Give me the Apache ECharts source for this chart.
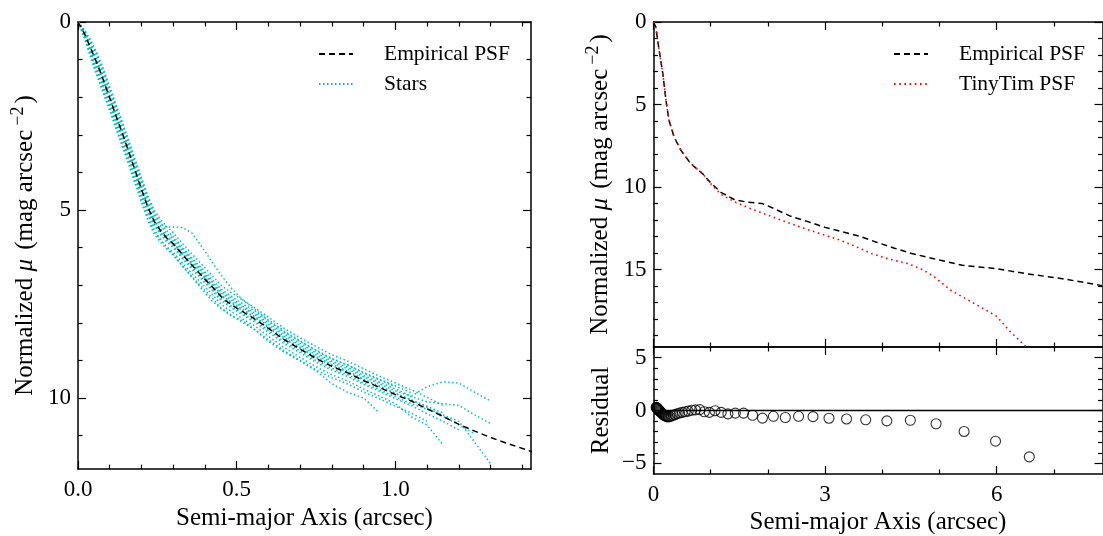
<!DOCTYPE html>
<html><head><meta charset="utf-8">
<script src="https://cdn.jsdelivr.net/npm/echarts@6.0.0/dist/echarts.min.js"></script>
<style>html,body{margin:0;padding:0;background:#fff}#c{width:1103px;height:536px}</style>
</head><body><div id="c"></div>
<script>
const FONT = '"Liberation Serif", "Times New Roman", "DejaVu Serif", serif';

// ---------- Left panel: empirical PSF and individual stars ----------
const psfX = [0, 0.02, 0.04, 0.06, 0.08, 0.10, 0.12, 0.14, 0.16, 0.18, 0.20, 0.22, 0.24, 0.26, 0.28, 0.30, 0.34, 0.38, 0.42, 0.46, 0.50, 0.55, 0.60, 0.65, 0.70, 0.75, 0.80, 0.85, 0.90, 0.95, 1.00, 1.05, 1.10, 1.15, 1.20, 1.25, 1.30, 1.35, 1.40, 1.43];
const psfY = [0, 0.30, 0.70, 1.10, 1.55, 2.02, 2.50, 2.97, 3.45, 3.95, 4.45, 4.92, 5.30, 5.55, 5.75, 5.90, 6.29, 6.66, 7.02, 7.38, 7.61, 7.86, 8.15, 8.45, 8.70, 8.95, 9.16, 9.33, 9.54, 9.72, 9.91, 10.08, 10.29, 10.49, 10.70, 10.88, 11.05, 11.20, 11.34, 11.43];

const starX = [0, 0.02, 0.04, 0.06, 0.08, 0.10, 0.12, 0.14, 0.16, 0.18, 0.20, 0.22, 0.24, 0.26, 0.28, 0.30, 0.33, 0.36, 0.39, 0.42, 0.45, 0.48, 0.52, 0.56, 0.60, 0.65, 0.70, 0.75, 0.80, 0.85, 0.90, 0.95, 1.00, 1.05, 1.10, 1.15, 1.20, 1.25, 1.30];
const star1  = [0, 0.20, 0.48, 0.82, 1.25, 1.72, 2.20, 2.67, 3.15, 3.65, 4.14, 4.62, 5.00, 5.25, 5.45, 5.60, 5.90, 6.18, 6.45, 6.72, 7.00, 7.18, 7.40, 7.62, 7.85, 8.15, 8.40, 8.63, 8.85, 9.02, 9.22, 9.42, 9.60, 9.78, 9.98, 10.20, null, null, null];
const star2  = [0, 0.24, 0.56, 0.92, 1.36, 1.82, 2.30, 2.78, 3.25, 3.75, 4.25, 4.72, 5.12, 5.38, 5.45, 5.45, 5.47, 5.62, 5.98, 6.35, 6.72, 7.05, 7.40, 7.66, 7.92, 8.22, 8.48, 8.72, 8.95, 9.12, 9.32, 9.50, 9.68, 9.86, null, null, null, null, null];
const star3  = [0, 0.27, 0.63, 1.01, 1.45, 1.92, 2.40, 2.87, 3.35, 3.85, 4.35, 4.82, 5.20, 5.42, 5.62, 5.76, 6.05, 6.33, 6.60, 6.88, 7.15, 7.33, 7.56, 7.76, 8.00, 8.30, 8.55, 8.80, 9.02, 9.18, 9.40, 9.58, 9.76, 9.95, 9.70, 9.57, 9.60, 9.85, 10.08];
const star4  = [0, 0.32, 0.74, 1.15, 1.60, 2.07, 2.55, 3.02, 3.50, 4.00, 4.50, 4.97, 5.36, 5.60, 5.80, 5.95, 6.25, 6.53, 6.80, 7.07, 7.35, 7.54, 7.76, 7.96, 8.20, 8.50, 8.75, 9.00, 9.21, 9.38, 9.60, 9.78, 9.97, 10.15, 10.30, 10.45, 10.62, 11.18, 11.75];
const star5  = [0, 0.30, 0.70, 1.10, 1.55, 2.02, 2.50, 2.97, 3.45, 3.95, 4.45, 4.92, 5.28, 5.50, 5.68, 5.82, 6.10, 6.38, 6.65, 6.92, 7.20, 7.38, 7.60, 7.80, 8.05, 8.35, 8.60, 8.85, 9.06, 9.23, 9.44, 9.62, 9.81, 9.96, 10.10, 10.15, 10.20, 10.45, 10.68];
const star6  = [0, 0.38, 0.85, 1.30, 1.76, 2.23, 2.70, 3.17, 3.65, 4.15, 4.65, 5.12, 5.52, 5.78, 6.00, 6.18, 6.50, 6.80, 7.10, 7.40, 7.62, 7.80, 7.95, 8.20, 8.50, 8.78, 9.02, 9.28, 9.62, 9.85, 10.00, 10.40, null, null, null, null, null, null, null];
const star7  = [0, 0.40, 0.90, 1.38, 1.85, 2.32, 2.80, 3.27, 3.75, 4.25, 4.75, 5.22, 5.58, 5.80, 5.98, 6.12, 6.42, 6.70, 6.96, 7.22, 7.50, 7.68, 7.90, 8.10, 8.36, 8.66, 8.92, 9.17, 9.38, 9.55, 9.76, 9.95, 10.15, 10.50, 10.72, 11.25, null, null, null];
const star8  = [0, 0.22, 0.52, 0.87, 1.30, 1.77, 2.25, 2.72, 3.20, 3.70, 4.20, 4.67, 5.06, 5.33, 5.55, 5.70, 6.00, 6.28, 6.55, 6.82, 7.10, 7.28, 7.50, 7.70, 7.95, 8.25, 8.50, 8.75, 8.96, 9.13, 9.34, 9.52, 9.70, null, null, null, null, null, null];
const star9  = [0, 0.34, 0.78, 1.20, 1.65, 2.12, 2.60, 3.07, 3.55, 4.05, 4.55, 5.02, 5.40, 5.65, 5.85, 6.00, 6.30, 6.58, 6.85, 7.12, 7.40, 7.58, 7.80, 8.00, 8.25, 8.55, 8.80, 9.05, 9.26, 9.43, 9.64, 9.82, 10.02, 10.20, 10.42, 10.62, 10.85, null, null];
const star10 = [0, 0.42, 0.95, 1.45, 1.90, 2.37, 2.85, 3.32, 3.80, 4.30, 4.80, 5.27, 5.64, 5.86, 6.05, 6.20, 6.50, 6.78, 7.05, 7.32, 7.60, 7.78, 8.00, 8.20, 8.45, 8.75, 9.00, 9.25, 9.46, 9.63, 9.84, 10.02, 10.22, 10.40, 10.62, null, null, null, null];
const star11 = [0, 0.28, 0.66, 1.05, 1.50, 1.97, 2.45, 2.92, 3.40, 3.90, 4.40, 4.87, 5.25, 5.52, 5.72, 5.88, 6.18, 6.46, 6.73, 7.00, 7.28, 7.46, 7.68, 7.88, 8.13, 8.43, 8.68, 8.93, 9.14, 9.31, 9.52, 9.70, 9.89, 10.05, 10.25, 10.48, 10.72, 10.95, null];
const star12 = [0, 0.36, 0.82, 1.26, 1.72, 2.18, 2.65, 3.12, 3.60, 4.10, 4.60, 5.06, 5.40, 5.60, 5.76, 5.88, 6.16, 6.43, 6.70, 6.97, 7.25, 7.43, 7.65, 7.85, 8.10, 8.40, 8.65, 8.90, 9.11, 9.28, 9.50, 9.68, 9.87, 10.05, 10.22, 10.40, null, null, null];
const starProfiles = [star1, star2, star3, star4, star5, star6, star7, star8, star9, star10, star11, star12];

// ---------- Right top panel: empirical vs TinyTim ----------
const empX = [0, 0.04, 0.10, 0.16, 0.22, 0.27, 0.36, 0.48, 0.65, 0.86, 1.00, 1.18, 1.41, 1.65, 1.90, 2.10, 2.40, 2.70, 3.00, 3.30, 3.60, 3.90, 4.20, 4.50, 4.90, 5.40, 6.00, 6.50, 7.15, 7.84];
const empY = [0, 0.30, 1.75, 3.05, 4.80, 5.95, 6.97, 7.78, 8.58, 9.20, 9.75, 10.33, 10.76, 10.93, 11.00, 11.30, 11.78, 12.10, 12.45, 12.72, 12.98, 13.35, 13.70, 14.02, 14.35, 14.75, 14.95, 15.25, 15.56, 15.98];
const tinyX = [0, 0.04, 0.10, 0.16, 0.22, 0.27, 0.36, 0.48, 0.65, 0.86, 1.00, 1.18, 1.41, 1.71, 2.01, 2.30, 2.61, 2.90, 3.22, 3.50, 3.82, 4.10, 4.43, 4.70, 4.91, 5.21, 5.64, 6.00, 6.24, 6.52];
const tinyY = [0, 0.30, 1.75, 3.05, 4.80, 5.95, 6.97, 7.78, 8.58, 9.20, 9.80, 10.45, 10.89, 11.33, 11.72, 12.10, 12.48, 12.82, 13.17, 13.55, 14.05, 14.35, 14.63, 15.00, 15.45, 16.29, 17.12, 17.84, 18.78, 19.70];

// ---------- Right bottom panel: residuals ----------
const resX = [0.046, 0.051, 0.056, 0.062, 0.068, 0.075, 0.082, 0.090, 0.099, 0.109, 0.120, 0.132, 0.145, 0.160, 0.176, 0.194, 0.213, 0.234, 0.258, 0.283, 0.312, 0.343, 0.377, 0.415, 0.456, 0.502, 0.552, 0.607, 0.668, 0.734, 0.808, 0.889, 0.977, 1.075, 1.183, 1.301, 1.431, 1.574, 1.732, 1.905, 2.096, 2.305, 2.536, 2.789, 3.068, 3.375, 3.71, 4.08, 4.49, 4.94, 5.43, 5.98, 6.57];
const resY = [0.30, 0.28, 0.25, 0.22, 0.18, 0.14, 0.10, 0.05, 0.0, -0.06, -0.12, -0.18, -0.25, -0.32, -0.40, -0.47, -0.53, -0.58, -0.60, -0.58, -0.52, -0.45, -0.38, -0.30, -0.24, -0.18, -0.12, -0.06, 0.02, 0.06, 0.08, -0.12, -0.18, -0.02, -0.18, -0.32, -0.25, -0.25, -0.45, -0.72, -0.55, -0.66, -0.55, -0.58, -0.73, -0.80, -0.88, -0.98, -0.92, -1.25, -1.98, -2.90, -4.38];

// ---------- Tick values ----------
const leftXMajor = [0, 0.5, 1.0];
const leftXMinor = [0.1, 0.2, 0.3, 0.4, 0.6, 0.7, 0.8, 0.9, 1.1, 1.2, 1.3, 1.4];
const leftYMajor = [0, 5, 10];
const leftYMinor = [1, 2, 3, 4, 6, 7, 8, 9, 11];
const rightXMajor = [0, 3, 6];
const rightXMinor = [1, 2, 4, 5, 7];
const rightYMajor = [0, 5, 10, 15];
const rightYMinor = [1, 2, 3, 4, 6, 7, 8, 9, 11, 12, 13, 14, 16, 17, 18, 19];
const resYMajor = [-5, 0, 5];
const resYMinor = [-4, -3, -2, -1, 1, 2, 3, 4];

const X_TITLE = 'Semi-major Axis (arcsec)';
const MU_TITLE = '{t|Normalized }{m|\u03bc}{t| (mag arcsec}{s|\u22122}{t|)}';

const TICK_FS = 23, TITLE_FS = 25;
const titleStyle = {
  fontFamily: FONT, fontSize: TITLE_FS, color: '#000',
  rich: {
    t: {fontFamily: FONT, fontSize: TITLE_FS, color: '#000', lineHeight: 32},
    m: {fontFamily: FONT, fontSize: TITLE_FS, fontStyle: 'italic', color: '#000', lineHeight: 32, padding: [0, 3, 0, 0]},
    s: {fontFamily: FONT, fontSize: 18, color: '#000', lineHeight: 18, verticalAlign: 'top', padding: [0, 3, 0, 4]}
  }
};

function axisSet(dim, gridIndex, min, max, major, minor, o) {
  const pos = dim === 'x' ? ['bottom', 'top'] : ['left', 'right'];
  const out = [];
  pos.forEach((p, k) => {
    const main = {
      type: 'value', gridIndex, min, max, position: p, inverse: !!o.inverse,
      splitLine: {show: false}, silent: true,
      axisLine: {show: true, onZero: false, lineStyle: {color: '#000', width: 1.5}},
      axisTick: {show: true, inside: true, length: 8, lineStyle: {color: '#000', width: 1.2}, customValues: major},
      axisLabel: (k === 0 && o.labels) ? {
        show: true, customValues: major, formatter: o.fmt, margin: o.margin,
        color: '#000', fontFamily: FONT, fontSize: TICK_FS
      } : {show: false}
    };
    if (k === 0 && o.name) {
      main.name = o.name;
      main.nameLocation = 'middle';
      main.nameGap = o.nameGap;
      if (dim === 'y') main.nameRotate = 90;
      main.nameTextStyle = titleStyle;
    }
    out.push(main);
    out.push({
      type: 'value', gridIndex, min, max, position: p, inverse: !!o.inverse,
      splitLine: {show: false}, silent: true,
      axisLine: {show: false, onZero: false},
      axisTick: {show: true, inside: true, length: 4.5, lineStyle: {color: '#000', width: 1.2}, customValues: minor},
      axisLabel: {show: false}
    });
  });
  return out;
}

const fmt1 = v => v.toFixed(1);
const fmt0 = v => (v < 0 ? '\u2212' + Math.abs(v) : String(v));

const xAxes = [].concat(
  axisSet('x', 0, 0, 1.427, leftXMajor, leftXMinor, {labels: true, fmt: fmt1, margin: 9, name: X_TITLE, nameGap: 36}),
  axisSet('x', 1, 0, 7.85, rightXMajor, rightXMinor, {labels: false}),
  axisSet('x', 2, 0, 7.85, rightXMajor, rightXMinor, {labels: true, fmt: fmt0, margin: 9, name: X_TITLE, nameGap: 36})
);
const yAxes = [].concat(
  axisSet('y', 0, 0, 11.89, leftYMajor, leftYMinor, {inverse: true, labels: true, fmt: fmt0, margin: 7, name: MU_TITLE, nameGap: 37}),
  axisSet('y', 1, 0, 19.7, rightYMajor, rightYMinor, {inverse: true, labels: true, fmt: fmt0, margin: 7, name: MU_TITLE, nameGap: 37}),
  axisSet('y', 2, -6, 6, resYMajor, resYMinor, {labels: true, fmt: fmt0, margin: 7, name: 'Residual', nameGap: 40})
);
yAxes[8].nameTextStyle = {fontFamily: FONT, fontSize: TITLE_FS, color: '#000'};

const pairs = (xs, ys) => xs.map((x, i) => [x, ys[i]]).filter(p => p[1] !== null);

const CYAN = '#00bfbf';
const series = [];
starProfiles.forEach(s => {
  series.push({
    name: 'Stars', type: 'line', xAxisIndex: 0, yAxisIndex: 0, symbol: 'none', showSymbol: false,
    data: pairs(starX, s), z: 2,
    lineStyle: {color: CYAN, width: 1.5, type: [1.5, 2.5]}, itemStyle: {color: CYAN}
  });
});
series.push({
  name: 'Empirical PSF', type: 'line', xAxisIndex: 0, yAxisIndex: 0, symbol: 'none', showSymbol: false,
  data: pairs(psfX, psfY), z: 3,
  lineStyle: {color: '#000', width: 1.5, type: [6, 4]}, itemStyle: {color: '#000'}
});
series.push({
  name: 'Empirical PSF', type: 'line', xAxisIndex: 4, yAxisIndex: 4, symbol: 'none', showSymbol: false,
  data: pairs(empX, empY), z: 3,
  lineStyle: {color: '#000', width: 1.5, type: [6, 4]}, itemStyle: {color: '#000'}
});
series.push({
  name: 'TinyTim PSF', type: 'line', xAxisIndex: 4, yAxisIndex: 4, symbol: 'none', showSymbol: false,
  data: pairs(tinyX, tinyY), z: 4,
  lineStyle: {color: '#ff0000', width: 1.6, type: [1.6, 3.6]}, itemStyle: {color: '#ff0000'}
});
series.push({
  name: 'Residual', type: 'scatter', xAxisIndex: 8, yAxisIndex: 8,
  symbol: 'circle', symbolSize: 10, data: pairs(resX, resY),
  itemStyle: {color: 'rgba(0,0,0,0)', borderColor: '#000', borderWidth: 1.1},
  markLine: {silent: true, symbol: 'none', label: {show: false}, animation: false,
    lineStyle: {color: '#000', type: 'solid', width: 1.3}, data: [{yAxis: 0}]}
});

const legendText = {fontFamily: FONT, fontSize: 21.5, color: '#000', padding: [0, 0, 0, 26]};
const legendBase = {
  orient: 'vertical', top: 43, padding: 0, itemWidth: 34, itemHeight: 14, itemGap: 8,
  textStyle: legendText, selectedMode: false,
  itemStyle: {opacity: 0, borderWidth: 0}, lineStyle: {opacity: 1}
};
const option = {
  animation: false,
  backgroundColor: '#fff',
  grid: [
    {left: 78, top: 22, width: 453, height: 455},
    {left: 653.5, top: 22, width: 449, height: 325},
    {left: 653.5, top: 347, width: 449, height: 130}
  ],
  xAxis: xAxes,
  yAxis: yAxes,
  legend: [
    Object.assign({}, legendBase, {left: 318, data: ['Empirical PSF', 'Stars']}),
    Object.assign({}, legendBase, {left: 893, data: ['Empirical PSF', 'TinyTim PSF']})
  ],
  series
};
const chart = echarts.init(document.getElementById('c'), null, {renderer: 'canvas'});
chart.setOption(option);
</script>
</body></html>
